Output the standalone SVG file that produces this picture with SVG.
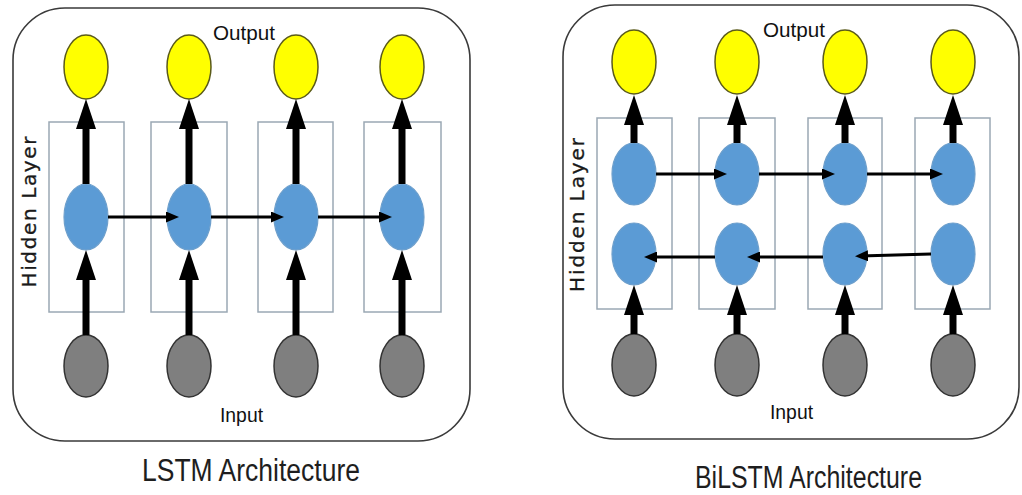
<svg xmlns="http://www.w3.org/2000/svg" width="1022" height="495" viewBox="0 0 1022 495">
  <style>
    .panel { fill: #ffffff; stroke: #3a3a3a; stroke-width: 1.6; }
    .cell { fill: #ffffff; stroke: #9aa8b4; stroke-width: 1.5; }
    .out { fill: #ffff00; stroke: #5a5a1a; stroke-width: 1.5; }
    .hid { fill: #5b9bd5; stroke: #6d9fcc; stroke-width: 1.2; }
    .inp { fill: #7f7f7f; stroke: #333333; stroke-width: 1.5; }
    .thick { stroke: #000000; stroke-width: 7; fill: none; marker-end: url(#bigHead); }
    .thin { stroke: #000000; stroke-width: 3; fill: none; marker-end: url(#smallHead); }
    .lbl { font-family: "Liberation Sans", Arial, sans-serif; font-size: 20px; fill: #111111; }
    .side { font-family: "DejaVu Sans", Verdana, sans-serif; font-size: 20px; fill: #1a1a1a; stroke: #1a1a1a; stroke-width: 0.3; }
    .title { font-family: "Liberation Sans", Arial, sans-serif; font-size: 31px; fill: #1e1e1e; }
  </style>
  <defs>
    <marker id="bigHead" markerUnits="userSpaceOnUse" markerWidth="30" markerHeight="20" refX="18" refY="10" orient="auto">
      <path d="M0,0 L30,10 L0,20 z" fill="#000000"/>
    </marker>
    <marker id="smallHead" markerUnits="userSpaceOnUse" markerWidth="13" markerHeight="11" refX="8" refY="5.5" orient="auto">
      <path d="M0,0 L13,5.5 L0,11 z" fill="#000000"/>
    </marker>
  </defs>

  <!-- LSTM panel -->
  <g id="lstm-panel">
    <rect class="panel" x="13" y="8" width="457" height="433" rx="52" ry="52"/>
    <text class="lbl" x="213" y="40" textLength="62" lengthAdjust="spacingAndGlyphs">Output</text>
    <text class="lbl" x="220" y="422" textLength="43" lengthAdjust="spacingAndGlyphs">Input</text>
    <text class="side" transform="translate(36,212) rotate(-90)" text-anchor="middle" textLength="151" lengthAdjust="spacing">Hidden Layer</text>
  </g>
  <text id="lstm-title" class="title" x="142" y="481" textLength="218" lengthAdjust="spacingAndGlyphs">LSTM Architecture</text>

  <g id="lstm-t1">
    <rect class="cell" x="49" y="122" width="75" height="190"/>
    <ellipse class="out" cx="86" cy="67" rx="22" ry="32"/>
    <ellipse class="hid" cx="86" cy="217" rx="22" ry="33"/>
    <ellipse class="inp" cx="86" cy="366" rx="22" ry="31"/>
  </g>
  <g id="lstm-t2">
    <rect class="cell" x="151" y="122" width="76" height="190"/>
    <ellipse class="out" cx="189" cy="67" rx="22" ry="32"/>
    <ellipse class="hid" cx="189" cy="217" rx="22" ry="33"/>
    <ellipse class="inp" cx="189" cy="366" rx="22" ry="31"/>
  </g>
  <g id="lstm-t3">
    <rect class="cell" x="258" y="122" width="75" height="190"/>
    <ellipse class="out" cx="296" cy="67" rx="22" ry="32"/>
    <ellipse class="hid" cx="296" cy="217" rx="22" ry="33"/>
    <ellipse class="inp" cx="296" cy="366" rx="22" ry="31"/>
  </g>
  <g id="lstm-t4">
    <rect class="cell" x="364" y="122" width="77" height="190"/>
    <ellipse class="out" cx="402" cy="67" rx="22" ry="32"/>
    <ellipse class="hid" cx="402" cy="217" rx="22" ry="33"/>
    <ellipse class="inp" cx="402" cy="366" rx="22" ry="31"/>
  </g>

  <g id="lstm-connectors">
    <!-- hidden to output -->
    <line class="thick" x1="86" y1="184" x2="86" y2="111"/>
    <line class="thick" x1="189" y1="184" x2="189" y2="111"/>
    <line class="thick" x1="296" y1="184" x2="296" y2="111"/>
    <line class="thick" x1="402" y1="184" x2="402" y2="111"/>
    <!-- input to hidden -->
    <line class="thick" x1="86" y1="335" x2="86" y2="262"/>
    <line class="thick" x1="189" y1="335" x2="189" y2="262"/>
    <line class="thick" x1="296" y1="335" x2="296" y2="262"/>
    <line class="thick" x1="402" y1="335" x2="402" y2="262"/>
    <!-- recurrent links -->
    <line class="thin" x1="108" y1="217" x2="174" y2="217"/>
    <line class="thin" x1="211" y1="217" x2="279" y2="217"/>
    <line class="thin" x1="318" y1="217" x2="387" y2="217"/>
  </g>

  <!-- BiLSTM panel -->
  <g id="bilstm-panel">
    <rect class="panel" x="563" y="5" width="456" height="434" rx="52" ry="52"/>
    <text class="lbl" x="763" y="37" textLength="62" lengthAdjust="spacingAndGlyphs">Output</text>
    <text class="lbl" x="770" y="419" textLength="43" lengthAdjust="spacingAndGlyphs">Input</text>
    <text class="side" transform="translate(584,215) rotate(-90)" text-anchor="middle" textLength="154" lengthAdjust="spacing">Hidden Layer</text>
  </g>
  <text id="bilstm-title" class="title" x="695" y="488" textLength="227" lengthAdjust="spacingAndGlyphs">BiLSTM Architecture</text>

  <g id="bilstm-t1">
    <rect class="cell" x="597" y="118" width="75" height="191"/>
    <ellipse class="out" cx="634" cy="62" rx="22" ry="32"/>
    <ellipse class="hid" cx="634" cy="174" rx="22" ry="31"/>
    <ellipse class="hid" cx="634" cy="254" rx="22" ry="31"/>
    <ellipse class="inp" cx="634" cy="365" rx="22" ry="31"/>
  </g>
  <g id="bilstm-t2">
    <rect class="cell" x="699" y="118" width="76" height="191"/>
    <ellipse class="out" cx="737" cy="62" rx="22" ry="32"/>
    <ellipse class="hid" cx="737" cy="174" rx="22" ry="31"/>
    <ellipse class="hid" cx="737" cy="254" rx="22" ry="31"/>
    <ellipse class="inp" cx="737" cy="365" rx="22" ry="31"/>
  </g>
  <g id="bilstm-t3">
    <rect class="cell" x="808" y="118" width="74" height="191"/>
    <ellipse class="out" cx="845" cy="62" rx="22" ry="32"/>
    <ellipse class="hid" cx="845" cy="174" rx="22" ry="31"/>
    <ellipse class="hid" cx="845" cy="254" rx="22" ry="31"/>
    <ellipse class="inp" cx="845" cy="365" rx="22" ry="31"/>
  </g>
  <g id="bilstm-t4">
    <rect class="cell" x="915" y="118" width="75" height="191"/>
    <ellipse class="out" cx="953" cy="62" rx="22" ry="32"/>
    <ellipse class="hid" cx="953" cy="174" rx="22" ry="31"/>
    <ellipse class="hid" cx="953" cy="254" rx="22" ry="31"/>
    <ellipse class="inp" cx="953" cy="365" rx="22" ry="31"/>
  </g>

  <g id="bilstm-connectors">
    <!-- forward hidden to output -->
    <line class="thick" x1="634" y1="143" x2="634" y2="107"/>
    <line class="thick" x1="737" y1="143" x2="737" y2="107"/>
    <line class="thick" x1="845" y1="143" x2="845" y2="107"/>
    <line class="thick" x1="953" y1="143" x2="953" y2="107"/>
    <!-- input to backward hidden -->
    <line class="thick" x1="634" y1="334" x2="634" y2="297"/>
    <line class="thick" x1="737" y1="334" x2="737" y2="297"/>
    <line class="thick" x1="845" y1="334" x2="845" y2="297"/>
    <line class="thick" x1="953" y1="334" x2="953" y2="297"/>
    <!-- forward direction -->
    <line class="thin" x1="656" y1="174" x2="722" y2="174"/>
    <line class="thin" x1="759" y1="174" x2="830" y2="174"/>
    <line class="thin" x1="867" y1="174" x2="938" y2="174"/>
    <!-- backward direction -->
    <line class="thin" x1="715" y1="257" x2="649" y2="257"/>
    <line class="thin" x1="823" y1="257" x2="752" y2="257"/>
    <line class="thin" x1="931" y1="254" x2="860" y2="256"/>
  </g>
</svg>
